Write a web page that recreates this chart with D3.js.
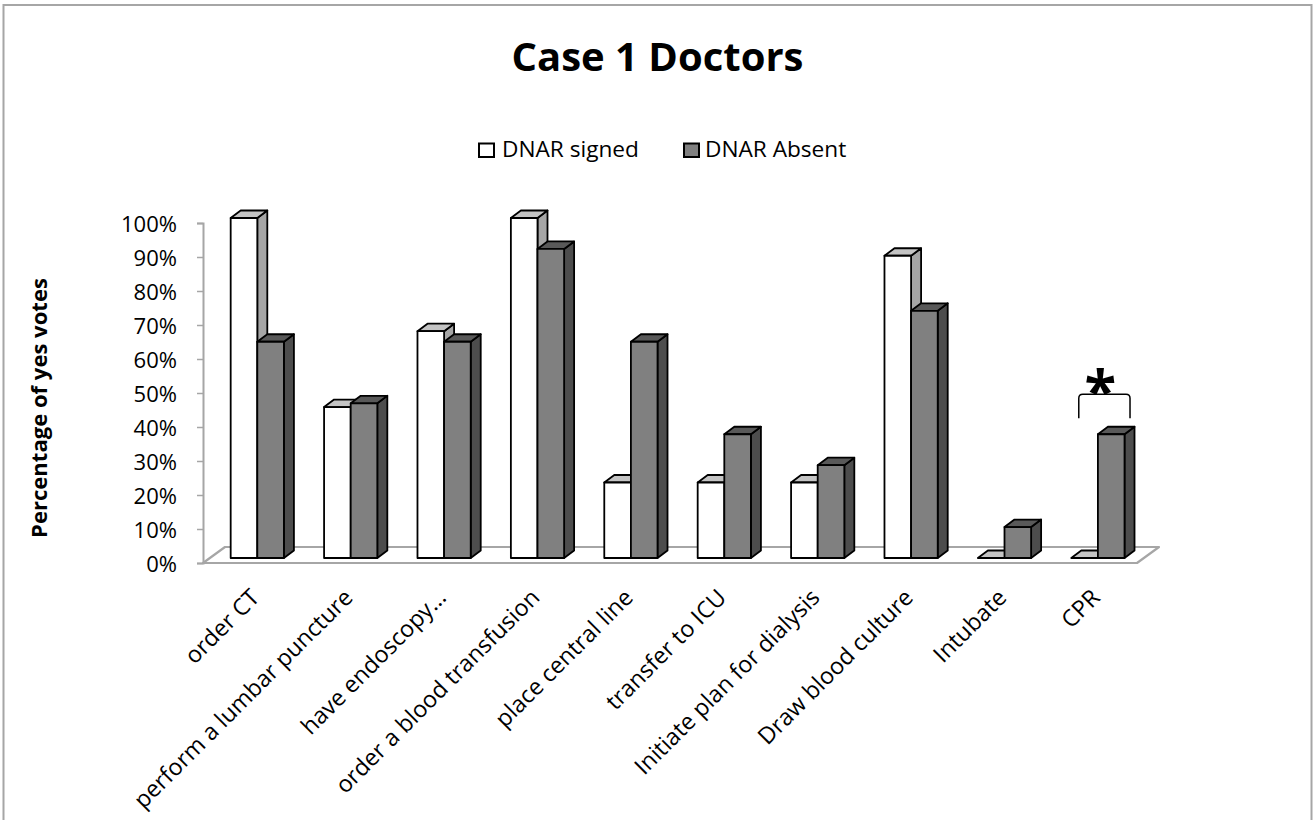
<!DOCTYPE html>
<html>
<head>
<meta charset="utf-8">
<script src="https://cdn.jsdelivr.net/npm/d3@7"></script>
<style>
  html, body { margin: 0; padding: 0; background: #fff; }
  svg { display: block; }
  text { font-family: "Open Sans", "DejaVu Sans", sans-serif; fill: #000; }
</style>
</head>
<body>
<svg id="chart" width="1315" height="820"></svg>
<script>
// ---- data ----
const categories = ["order CT", "perform a lumbar puncture", "have endoscopy…", "order a blood transfusion",
  "place central line", "transfer to ICU", "Initiate plan for dialysis", "Draw blood culture", "Intubate", "CPR"];
const seriesNames = ["DNAR signed", "DNAR Absent"];
const dnarSigned = [100, 44.4, 66.7, 100, 22.2, 22.2, 22.2, 88.9, 0, 0];
const dnarAbsent = [63.6, 45.5, 63.6, 90.9, 63.6, 36.4, 27.3, 72.7, 9.1, 36.4];
const yTicks = [0, 10, 20, 30, 40, 50, 60, 70, 80, 90, 100];
const titleText = "Case 1 Doctors";
const yTitleText = "Percentage of yes votes";
const significantCategory = "CPR";

// ---- layout ----
const svg = d3.select("#chart");
const axisX = 203, axisBottom = 563, axisTop = 223;
const floorRight = 1137;
const floorDepth = [22, -16];
const barOffset = [7.6, -5];
const barDepth = [10, -7.5];

// border
svg.append("rect").attr("x", 3.5).attr("y", 5).attr("width", 1308).attr("height", 830)
  .attr("fill", "none").attr("stroke", "#a6a6a6").attr("stroke-width", 2);

function fitSize(str, target, weight) {
  const t = svg.append("text").attr("font-size", 20).attr("font-weight", weight || "normal").text(str);
  const len = t.node().getComputedTextLength();
  t.remove();
  return 20 * target / len;
}

// title
svg.append("text").attr("x", 657.5).attr("y", 70.7).attr("text-anchor", "middle")
  .attr("font-weight", "bold").attr("font-size", fitSize(titleText, 292, "bold")).text(titleText);

// scales
const yAxisScale = d3.scaleLinear().domain([0, 100]).range([axisBottom, axisTop]);
const yBar = d3.scaleLinear().domain([0, 100]).range([axisBottom + barOffset[1], axisTop + barOffset[1]]);
const xCat = d3.scaleBand().domain(categories)
  .range([axisX + barOffset[0], axisX + barOffset[0] + (floorRight - axisX)])
  .paddingInner(0.43).paddingOuter(0.215);
const xSub = d3.scaleBand().domain(seriesNames).range([0, xCat.bandwidth()]);
const barW = xSub.bandwidth();

// floor
const fl = [[axisX, axisBottom], [axisX + floorDepth[0], axisBottom + floorDepth[1]],
  [floorRight + floorDepth[0], axisBottom + floorDepth[1]], [floorRight, axisBottom]];
svg.append("path").attr("d", "M" + fl.map(p => p.join(",")).join("L") + "Z")
  .attr("fill", "#fff").attr("stroke", "#a6a6a6").attr("stroke-width", 2.2).attr("stroke-linejoin", "round");

// y axis
const tickFont = fitSize("100%", 56);
const yAxis = d3.axisLeft(yAxisScale).tickValues(yTicks).tickFormat(d => d + "%").tickSize(6).tickPadding(20);
const gy = svg.append("g").attr("transform", `translate(${axisX},0)`).call(yAxis);
gy.select(".domain").attr("stroke", "#a6a6a6").attr("stroke-width", 2);
gy.selectAll(".tick line").attr("stroke", "#a6a6a6").attr("stroke-width", 1.5);
gy.selectAll(".tick text").attr("font-size", tickFont).attr("font-family", "Open Sans, sans-serif")
  .attr("fill", "#000").attr("dy", "0.4em");

// y title
const yTitleSize = fitSize(yTitleText, 260, "bold");
svg.append("text").attr("transform", "translate(47,408) rotate(-90)").attr("text-anchor", "middle")
  .attr("font-weight", "bold").attr("font-size", yTitleSize).text(yTitleText);

// bars
const styles = [
  { front: "#ffffff", top: "#c4c4c4", side: "#a6a6a6" },
  { front: "#808080", top: "#595959", side: "#4d4d4d" }
];
const values = [dnarSigned, dnarAbsent];
const gBars = svg.append("g");
categories.forEach((cat, i) => {
  seriesNames.forEach((s, k) => {
    const v = values[k][i];
    const x0 = xCat(cat) + xSub(s), x1 = x0 + barW;
    const yT = yBar(v), yB = yBar(0);
    const [dx, dy] = barDepth;
    const g = gBars.append("g");
    const st = styles[k];
    const common = el => el.attr("stroke", "#000").attr("stroke-width", 1.8).attr("stroke-linejoin", "round");
    if (v > 0) {
      common(g.append("path").attr("d", `M${x1},${yT}L${x1 + dx},${yT + dy}L${x1 + dx},${yB + dy}L${x1},${yB}Z`).attr("fill", st.side));
    }
    common(g.append("path").attr("d", `M${x0},${yT}L${x0 + dx},${yT + dy}L${x1 + dx},${yT + dy}L${x1},${yT}Z`).attr("fill", st.top));
    if (v > 0) {
      common(g.append("rect").attr("x", x0).attr("y", yT).attr("width", barW).attr("height", yB - yT).attr("fill", st.front));
    }
  });
});

// x labels
const xFont = fitSize("perform a lumbar puncture", 298);
categories.forEach(cat => {
  const cx = xCat(cat) + barW + 3.5;
  svg.append("text").attr("transform", `translate(${cx},599) rotate(-45)`).attr("text-anchor", "end")
    .attr("font-size", xFont).text(cat);
});

// legend
const legFont = fitSize("DNAR signed", 137);
const legendItems = [{ x: 479, textX: 502 }, { x: 684, textX: 705 }];
seriesNames.forEach((s, k) => {
  svg.append("rect").attr("x", legendItems[k].x).attr("y", 143.5).attr("width", 15).attr("height", 13.5)
    .attr("fill", styles[k].front).attr("stroke", "#000").attr("stroke-width", 2);
  svg.append("text").attr("x", legendItems[k].textX).attr("y", 156.7).attr("font-size", legFont).text(s);
});

// significance bracket
const ci = categories.indexOf(significantCategory);
const bx0 = xCat(significantCategory) + 7.5, bx1 = xCat(significantCategory) + xCat.bandwidth() + 5.5;
const byTop = yBar(dnarAbsent[ci]) - 40, byBot = yBar(dnarAbsent[ci]) - 16;
svg.append("path")
  .attr("d", `M${bx0},${byBot}L${bx0},${byTop + 4}Q${bx0},${byTop} ${bx0 + 4},${byTop}L${bx1 - 4},${byTop}Q${bx1},${byTop} ${bx1},${byTop + 4}L${bx1},${byBot}`)
  .attr("fill", "none").attr("stroke", "#000").attr("stroke-width", 1.5);
svg.append("text").attr("x", (bx0 + bx1) / 2 - 4).attr("y", byTop + 18).attr("text-anchor", "middle")
  .attr("font-size", 58).attr("font-weight", "bold").text("*");
</script>
</body>
</html>
